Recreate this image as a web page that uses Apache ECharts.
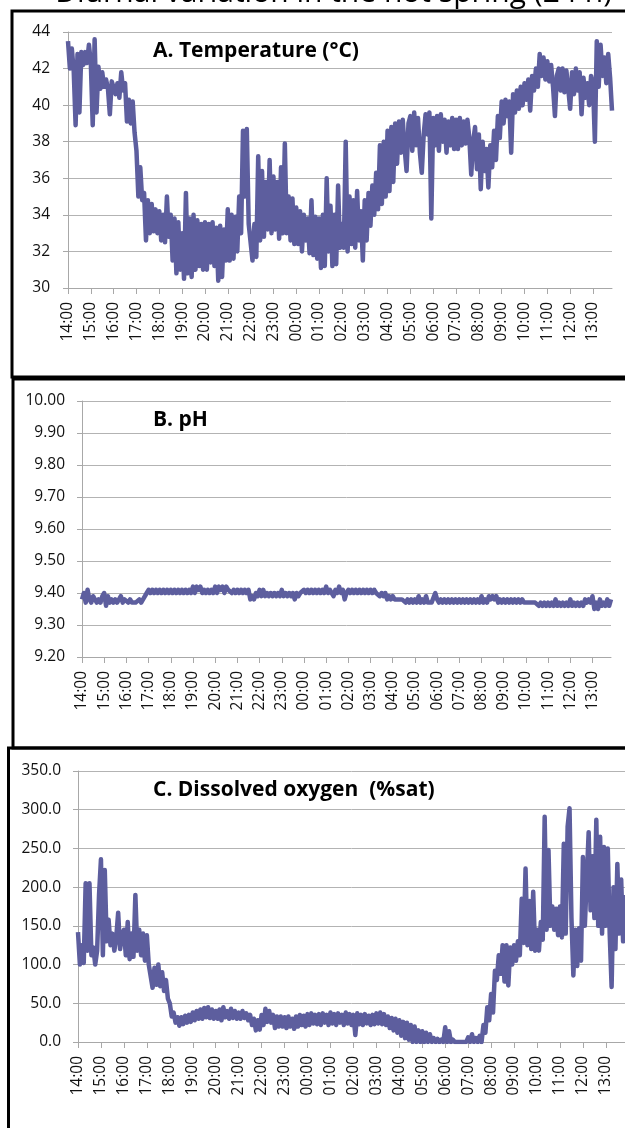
<!DOCTYPE html>
<html>
<head>
<meta charset="utf-8">
<script src="https://cdn.jsdelivr.net/npm/echarts@6/dist/echarts.min.js"></script>
<style>
html,body{margin:0;padding:0;background:#fff;}
#chart{width:625px;height:1128px;}
</style>
</head>
<body>
<div id="chart"></div>
<script>
// ---- tick labels / categories ----
const hourLabels = ["14:00","15:00","16:00","17:00","18:00","19:00","20:00","21:00","22:00","23:00",
  "00:00","01:00","02:00","03:00","04:00","05:00","06:00","07:00","08:00","09:00","10:00","11:00","12:00","13:00"];
const minuteSlots = ["00","05","10","15","20","25","30","35","40","45","50","55"];
const lastHourSlots = 11; // data ends at 13:50

// ---- A. Temperature (°C), 5-minute readings (band high/low) ----
const temperature = [].concat(
  [43.5, 42.0, 43.1, 41.9, 38.9, 42.8, 39.6, 42.9, 42.2, 42.9, 42.3, 43.3], // 14
  [42.3, 38.9, 43.6, 39.6, 42.1, 40.9, 41.8, 41.0, 41.4, 40.9, 39.5, 41.3], // 15
  [41.3, 40.6, 41.2, 40.4, 41.8, 40.8, 41.2, 39.1, 40.3, 39.0, 40.2, 38.5], // 16
  [37.5, 35.0, 36.6, 34.8, 35.2, 32.6, 34.8, 33.0, 34.6, 33.1, 34.3, 33.0], // 17
  [34.2, 32.6, 34.0, 32.5, 35.0, 32.8, 34.0, 31.5, 33.8, 30.8, 33.6, 31.0], // 18
  [33.0, 30.5, 35.2, 30.8, 33.8, 30.6, 34.0, 31.0, 33.7, 31.2, 33.5, 31.0], // 19
  [33.6, 31.0, 33.5, 31.4, 33.6, 31.2, 33.3, 30.4, 33.4, 30.6, 33.2, 31.5], // 20
  [34.3, 31.5, 34.0, 31.6, 33.9, 32.0, 35.0, 33.0, 38.6, 35.0, 38.7, 33.5], // 21
  [33.4, 31.5, 33.5, 31.7, 37.2, 32.6, 36.4, 32.8, 35.8, 33.2, 37.0, 33.0], // 22
  [36.1, 33.2, 35.8, 32.7, 36.6, 33.0, 37.9, 33.0, 35.0, 32.6, 34.9, 32.4], // 23
  [34.4, 32.4, 34.2, 32.0, 34.0, 32.6, 33.8, 31.9, 34.8, 31.8, 33.9, 31.6], // 00
  [33.8, 31.1, 34.0, 31.2, 36.0, 32.0, 34.5, 31.2, 34.0, 31.3, 35.6, 32.2], // 01
  [33.5, 32.2, 38.0, 32.0, 35.0, 32.4, 34.8, 32.2, 35.3, 32.6, 34.2, 31.5], // 02
  [34.8, 32.6, 35.2, 33.4, 35.6, 34.0, 36.3, 34.3, 37.8, 34.6, 38.0, 35.0], // 03
  [38.6, 35.3, 38.8, 35.8, 39.0, 36.8, 39.1, 37.4, 39.2, 37.6, 36.4, 39.0], // 04
  [39.4, 37.5, 39.6, 37.8, 39.3, 37.4, 36.3, 38.4, 39.5, 38.4, 39.6, 33.8], // 05
  [39.3, 37.8, 39.4, 37.5, 39.5, 38.0, 39.2, 37.4, 39.1, 37.8, 39.3, 37.6], // 06
  [39.2, 37.6, 39.3, 37.8, 39.1, 37.9, 39.2, 38.2, 36.2, 38.0, 38.8, 36.5], // 07
  [38.4, 35.4, 38.0, 36.4, 37.6, 35.5, 37.8, 36.6, 38.6, 37.0, 39.4, 38.2], // 08
  [40.2, 39.0, 40.3, 39.4, 40.2, 37.4, 40.6, 39.6, 40.8, 39.8, 41.0, 40.0], // 09
  [41.2, 40.3, 41.4, 39.7, 41.6, 40.8, 42.0, 41.0, 42.8, 41.6, 42.6, 41.4], // 10
  [42.4, 41.3, 42.2, 41.0, 39.4, 41.6, 42.0, 40.8, 42.0, 40.7, 41.9, 40.9], // 11
  [39.8, 41.8, 40.6, 42.0, 40.8, 41.8, 39.5, 41.5, 40.4, 41.2, 40.0, 41.6], // 12
  [41.2, 38.0, 43.5, 41.0, 43.3, 41.6, 42.6, 41.2, 42.8, 41.5, 39.7]        // 13
);

// ---- B. pH ----
const ph = [].concat(
  [9.38, 9.40, 9.37, 9.41, 9.38, 9.37, 9.39, 9.38, 9.37, 9.38, 9.37, 9.39], // 14
  [9.40, 9.36, 9.39, 9.37, 9.38, 9.37, 9.38, 9.37, 9.38, 9.39, 9.37, 9.38], // 15
  [9.38, 9.37, 9.38, 9.37, 9.37, 9.37, 9.37, 9.38, 9.37, 9.38, 9.38, 9.40], // 16
  [9.41, 9.40, 9.41, 9.40, 9.41, 9.40, 9.41, 9.40, 9.41, 9.40, 9.41, 9.40], // 17
  [9.41, 9.40, 9.41, 9.40, 9.41, 9.40, 9.41, 9.40, 9.41, 9.40, 9.41, 9.40], // 18
  [9.42, 9.40, 9.42, 9.41, 9.42, 9.40, 9.41, 9.40, 9.41, 9.40, 9.41, 9.40], // 19
  [9.42, 9.40, 9.42, 9.41, 9.42, 9.40, 9.42, 9.41, 9.41, 9.40, 9.41, 9.40], // 20
  [9.41, 9.40, 9.41, 9.40, 9.41, 9.40, 9.41, 9.38, 9.39, 9.38, 9.40, 9.39], // 21
  [9.41, 9.39, 9.41, 9.39, 9.40, 9.39, 9.40, 9.39, 9.40, 9.39, 9.40, 9.39], // 22
  [9.41, 9.39, 9.40, 9.39, 9.40, 9.39, 9.40, 9.38, 9.40, 9.39, 9.40, 9.40], // 23
  [9.41, 9.40, 9.41, 9.40, 9.41, 9.40, 9.41, 9.40, 9.41, 9.40, 9.41, 9.40], // 00
  [9.42, 9.40, 9.41, 9.40, 9.39, 9.41, 9.40, 9.42, 9.40, 9.41, 9.38, 9.40], // 01
  [9.41, 9.40, 9.41, 9.40, 9.41, 9.40, 9.41, 9.40, 9.41, 9.40, 9.41, 9.40], // 02
  [9.41, 9.40, 9.41, 9.40, 9.40, 9.39, 9.40, 9.39, 9.40, 9.38, 9.39, 9.38], // 03
  [9.39, 9.38, 9.38, 9.38, 9.38, 9.38, 9.38, 9.37, 9.38, 9.37, 9.38, 9.37], // 04
  [9.38, 9.37, 9.39, 9.37, 9.38, 9.37, 9.39, 9.37, 9.37, 9.37, 9.37, 9.40], // 05
  [9.38, 9.37, 9.38, 9.37, 9.38, 9.37, 9.38, 9.37, 9.38, 9.37, 9.38, 9.37], // 06
  [9.38, 9.37, 9.38, 9.37, 9.38, 9.37, 9.38, 9.37, 9.38, 9.37, 9.38, 9.37], // 07
  [9.39, 9.37, 9.38, 9.37, 9.39, 9.38, 9.39, 9.38, 9.39, 9.37, 9.38, 9.37], // 08
  [9.38, 9.37, 9.38, 9.37, 9.38, 9.37, 9.38, 9.37, 9.38, 9.37, 9.38, 9.37], // 09
  [9.37, 9.37, 9.37, 9.37, 9.37, 9.37, 9.37, 9.36, 9.37, 9.36, 9.37, 9.36], // 10
  [9.37, 9.36, 9.37, 9.36, 9.38, 9.36, 9.37, 9.36, 9.37, 9.36, 9.37, 9.36], // 11
  [9.38, 9.36, 9.37, 9.36, 9.37, 9.36, 9.37, 9.36, 9.38, 9.37, 9.38, 9.37], // 12
  [9.39, 9.35, 9.37, 9.35, 9.38, 9.36, 9.37, 9.36, 9.38, 9.36, 9.38]        // 13
);

// ---- C. Dissolved oxygen (%sat) ----
const dissolvedOxygen = [].concat(
  [142, 100, 125, 102, 205, 118, 205, 112, 122, 100, 118, 190], // 14
  [236, 112, 222, 130, 158, 125, 140, 118, 135, 167, 120, 138], // 15
  [145, 112, 155, 107, 140, 110, 190, 118, 145, 112, 140, 105], // 16
  [138, 100, 98, 70, 96, 74, 100, 72, 90, 66, 80, 56],          // 17
  [50, 33, 38, 25, 32, 21, 32, 23, 34, 25, 35, 26],             // 18
  [38, 28, 40, 30, 42, 30, 44, 32, 45, 31, 42, 30],             // 19
  [40, 30, 42, 28, 45, 32, 40, 30, 43, 31, 40, 30],             // 20
  [38, 30, 40, 31, 37, 28, 35, 22, 30, 15, 28, 16],             // 21
  [35, 22, 43, 26, 40, 25, 35, 18, 33, 20, 33, 20],             // 22
  [32, 18, 33, 20, 30, 17, 33, 20, 35, 22, 34, 20],             // 23
  [36, 22, 37, 24, 35, 23, 36, 22, 37, 25, 35, 22],             // 00
  [38, 24, 36, 22, 37, 25, 35, 22, 38, 24, 36, 22],             // 01
  [35, 9, 37, 23, 35, 22, 36, 24, 34, 22, 35, 23],              // 02
  [37, 24, 38, 23, 36, 22, 33, 18, 31, 15, 30, 12],             // 03
  [28, 8, 26, 5, 25, 3, 22, 0, 20, 0, 15, 0],                   // 04
  [14, 0, 12, 0, 10, 0, 5, 0, 4, 0, 3, 0],                      // 05
  [19, 0, 14, 0, 3, 0, 2, 0, 1, 0, 2, 0],                       // 06
  [6, 0, 10, 0, 5, 0, 8, 0, 22, 12, 45, 28],                    // 07
  [62, 38, 92, 80, 112, 88, 125, 78, 125, 73, 122, 100],        // 08
  [125, 105, 130, 112, 185, 128, 224, 125, 182, 120, 194, 118], // 09
  [145, 118, 155, 132, 291, 145, 248, 150, 175, 145, 172, 138], // 10
  [175, 135, 256, 140, 278, 302, 160, 86, 145, 98, 147, 105],   // 11
  [239, 150, 210, 271, 170, 240, 160, 287, 150, 265, 140, 252], // 12
  [150, 250, 140, 71, 200, 120, 230, 140, 210, 130, 190]        // 13
);

const categories = [];
hourLabels.forEach(function (h, i) {
  const hh = h.slice(0, 3);
  const n = (i === hourLabels.length - 1) ? lastHourSlots : minuteSlots.length;
  for (let k = 0; k < n; k++) categories.push(hh + minuteSlots[k]);
});

const tempTicks = { min: 30, max: 44, interval: 2 };
const phTicks = { min: 9.2, max: 10.0, interval: 0.1 };
const doTicks = { min: 0, max: 350, interval: 50 };

const LINE = '#5d5e9e';
const GRIDC = '#b3b3b3';
const AXC = '#a8a8a8';
const FONT = '"Open Sans", Lato, sans-serif';

function xAxisFor(gi) {
  return {
    type: 'category', gridIndex: gi, data: categories, boundaryGap: false,
    axisLine: { show: true, lineStyle: { color: AXC, width: 1 } },
    axisTick: { show: true, interval: 11, length: 6, lineStyle: { color: AXC } },
    axisLabel: {
      interval: 11, rotate: 90, margin: 14, color: '#111', fontSize: 15.5, fontFamily: FONT,
      formatter: function (v) { return v; }
    },
    splitLine: { show: false }
  };
}
function yAxisFor(gi, t, dec, margin) {
  return {
    type: 'value', gridIndex: gi, min: t.min, max: t.max, interval: t.interval,
    axisLine: { show: true, lineStyle: { color: AXC, width: 1 } },
    axisTick: { show: true, length: 5, lineStyle: { color: AXC } },
    axisLabel: {
      margin: margin, color: '#111', fontSize: 15.5, fontFamily: FONT,
      formatter: function (v) { return Number(v).toFixed(dec); }
    },
    splitLine: { show: true, lineStyle: { color: GRIDC, width: 1 } }
  };
}
function seriesFor(gi, data) {
  return {
    type: 'line', xAxisIndex: gi, yAxisIndex: gi, data: data,
    showSymbol: false, symbol: 'none', sampling: null, animation: false,
    lineStyle: { color: LINE, width: 4.5, join: 'round' }, z: 3
  };
}

const chart = echarts.init(document.getElementById('chart'), null, { renderer: 'canvas' });
chart.setOption({
  backgroundColor: '#ffffff',
  animation: false,
  grid: [
    { left: 68, top: 32, width: 544, height: 256 },
    { left: 82, top: 401, width: 529, height: 256 },
    { left: 78, top: 771, width: 559, height: 271 }
  ],
  xAxis: [xAxisFor(0), xAxisFor(1), xAxisFor(2)],
  yAxis: [yAxisFor(0, tempTicks, 0, 18), yAxisFor(1, phTicks, 2, 17), yAxisFor(2, doTicks, 1, 17)],
  series: [seriesFor(0, temperature), seriesFor(1, ph), seriesFor(2, dissolvedOxygen)],
  graphic: [
    { type: 'text', x: 612, y: 8, z: 10,
      style: { text: 'Diurnal variation in the hot spring (24 h)', font: '30px "Open Sans", sans-serif', fill: '#000', textAlign: 'right', textVerticalAlign: 'bottom' } },
    { type: 'rect', z: 20, shape: { x: 12, y: 11, width: 700, height: 366 }, style: { fill: 'none', stroke: '#000', lineWidth: 3 } },
    { type: 'rect', z: 20, shape: { x: 13, y: 379, width: 700, height: 369 }, style: { fill: 'none', stroke: '#000', lineWidth: 3 } },
    { type: 'rect', z: 20, shape: { x: 8.5, y: 748, width: 700, height: 500 }, style: { fill: 'none', stroke: '#000', lineWidth: 3 } },
    { type: 'text', z: 10, x: 153, y: 51,
      style: { text: 'A. Temperature (°C)', font: 'bold 21px "Open Sans", sans-serif', fill: '#000', textVerticalAlign: 'middle' } },
    { type: 'text', z: 10, x: 153, y: 420,
      style: { text: 'B. pH', font: 'bold 21px "Open Sans", sans-serif', fill: '#000', textVerticalAlign: 'middle' } },
    { type: 'text', z: 10, x: 153, y: 790,
      style: { text: 'C. Dissolved oxygen  (%sat)', font: 'bold 21px "Open Sans", sans-serif', fill: '#000', textVerticalAlign: 'middle' } }
  ]
});
</script>
</body>
</html>
